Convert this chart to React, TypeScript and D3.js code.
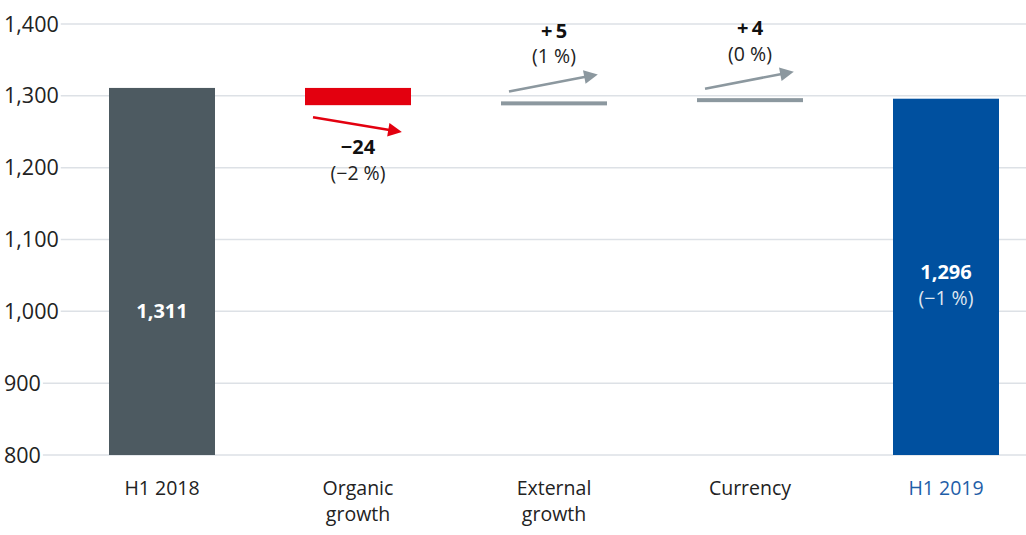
import React, { useRef, useEffect } from "react";
import { select, scaleLinear, scalePoint } from "d3";

// waterfall: revenue bridge H1 2018 -> H1 2019
const categories = ["H1 2018", "Organic growth", "External growth", "Currency", "H1 2019"];
const deltas = [1311, -24, 5, 4, 1296];
const kinds = ["total", "step", "step", "step", "total"];
const deltaLabels = ["1,311", "\u221224", "+\u20095", "+\u20094", "1,296"];
const pctLabels = ["", "(\u22122 %)", "(1 %)", "(0 %)", "(\u22121 %)"];
const yTicks = [800, 900, 1000, 1100, 1200, 1300, 1400];

const W = 1026;
const H = 535;
const FONT = "'Open Sans', 'Noto Sans', sans-serif";

const App: React.FC = () => {
  const svgRef = useRef<SVGSVGElement>(null);

  useEffect(() => {
    if (!svgRef.current) return;
    const svg = select(svgRef.current);
    svg.selectAll("*").remove();

    const y = scaleLinear().domain([800, 1400]).range([455, 24]);
    const x = scalePoint<string>().domain(categories).range([162, 946]);
    const bw = 106;

    // running totals
    let run = 0;
    const bars = categories.map((c, i) => {
      if (kinds[i] === "total") {
        run = deltas[i];
        return { c, i, y0: 800, y1: deltas[i] };
      }
      const start = run;
      run += deltas[i];
      return { c, i, y0: start, y1: run };
    });

    // gridlines + tick labels (grid starts right after label text)
    const axis = svg.append("g");
    yTicks.forEach((t) => {
      const txt = axis
        .append("text")
        .attr("x", 4)
        .attr("y", y(t))
        .attr("dy", "0.35em")
        .attr("font-family", FONT)
        .attr("font-size", 21.5)
        .attr("fill", "#222")
        .text(t.toLocaleString("en-US"));
      const w = (txt.node() as SVGTextElement).getComputedTextLength();
      axis
        .append("line")
        .attr("x1", 4 + w + 2)
        .attr("x2", W)
        .attr("y1", y(t))
        .attr("y2", y(t))
        .attr("stroke", "#dde1e6")
        .attr("stroke-width", 1.5);
    });

    const fillFor = (i: number) =>
      i === 0 ? "#4d5a61" : i === 4 ? "#00509f" : deltas[i] < 0 ? "#e3000f" : "#8c989f";

    bars.forEach((b) => {
      const cx = x(b.c)!;
      let top = y(Math.max(b.y0, b.y1));
      let h = Math.abs(y(b.y0) - y(b.y1));
      if (h < 4) {
        top = top + h / 2 - 2;
        h = 4;
      }
      svg
        .append("rect")
        .attr("x", cx - bw / 2)
        .attr("y", top)
        .attr("width", bw)
        .attr("height", h)
        .attr("fill", fillFor(b.i));
    });

    // arrowhead markers
    const defs = svg.append("defs");
    [
      ["arr-red", "#e3000f"],
      ["arr-grey", "#8c989f"],
    ].forEach(([id, col]) => {
      defs
        .append("marker")
        .attr("id", id)
        .attr("viewBox", "0 0 10 10")
        .attr("refX", 2)
        .attr("refY", 5)
        .attr("markerWidth", 6.5)
        .attr("markerHeight", 5.5)
        .attr("markerUnits", "strokeWidth")
        .attr("orient", "auto")
        .append("path")
        .attr("d", "M0,0L10,5L0,10z")
        .attr("fill", col);
    });

    const label = (cx: number, yy: number, s: string, bold: boolean, fill: string) =>
      svg
        .append("text")
        .attr("x", cx)
        .attr("y", yy)
        .attr("dy", "0.35em")
        .attr("text-anchor", "middle")
        .attr("font-family", FONT)
        .attr("font-size", bold ? 20 : 19.5)
        .attr("font-weight", bold ? 700 : 400)
        .attr("fill", fill)
        .text(s);

    // step annotations
    bars.forEach((b) => {
      if (kinds[b.i] !== "step") return;
      const cx = x(b.c)!;
      const neg = deltas[b.i] < 0;
      const x1 = cx - bw / 2 + 8;
      const x2 = cx + bw / 2 - 20;
      if (neg) {
        const base = y(Math.min(b.y0, b.y1));
        svg
          .append("line")
          .attr("x1", x1)
          .attr("y1", base + 12)
          .attr("x2", x2)
          .attr("y2", base + 25)
          .attr("stroke", "#e3000f")
          .attr("stroke-width", 2.5)
          .attr("marker-end", "url(#arr-red)");
        label(cx, base + 42, deltaLabels[b.i], true, "#111");
        label(cx, base + 68, pctLabels[b.i], false, "#222");
      } else {
        const base = y(Math.max(b.y0, b.y1)) - 1;
        svg
          .append("line")
          .attr("x1", x1)
          .attr("y1", base - 9)
          .attr("x2", x2)
          .attr("y2", base - 24)
          .attr("stroke", "#8c989f")
          .attr("stroke-width", 2.5)
          .attr("marker-end", "url(#arr-grey)");
        label(cx, base - 70, deltaLabels[b.i], true, "#111");
        label(cx, base - 44, pctLabels[b.i], false, "#222");
      }
    });

    // totals labels inside bars
    label(x(categories[0])!, y(1000), deltaLabels[0], true, "#fff");
    label(x(categories[4])!, y(1000) - 39, deltaLabels[4], true, "#fff");
    label(x(categories[4])!, y(1000) - 13, pctLabels[4], false, "#dfe6f0");

    // category labels
    categories.forEach((c, i) => {
      const words = c === "H1 2018" || c === "H1 2019" || c === "Currency" ? [c] : c.split(" ");
      const t = svg
        .append("text")
        .attr("text-anchor", "middle")
        .attr("font-family", FONT)
        .attr("font-size", 19.5)
        .attr("fill", i === 4 ? "#1f5ea8" : "#222");
      words.forEach((w, k) => {
        t.append("tspan")
          .attr("x", x(c)!)
          .attr("y", 488 + k * 26)
          .attr("dy", "0.35em")
          .text(w);
      });
    });
  }, []);

  return (
    <svg
      ref={svgRef}
      width={W}
      height={H}
      style={{ position: "absolute", left: 0, top: 0, background: "#fff" }}
    />
  );
};

export default App;
